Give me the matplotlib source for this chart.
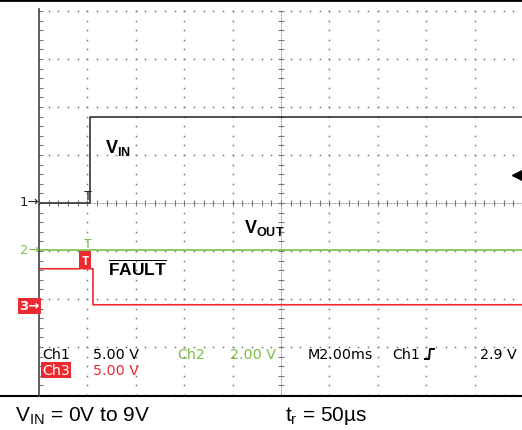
import numpy as np
import matplotlib.pyplot as plt
from matplotlib.lines import Line2D

# scope settings (V/div, ms/div)
ch1_scale = 5.0
ch2_scale = 2.0
ch3_scale = 5.0
time_scale = 2.0

# channel ground offsets in divisions
ch1_offset = 0.0
ch2_offset = -0.98
ch3_offset = -2.12

# traces: time in ms (trigger at 0), values in volts
t_vin = [-2.0, 0.12, 0.12, 18.0]
v_vin = [0.0, 0.0, 9.0, 9.0]
t_vout = [-2.0, 18.0]
v_vout = [0.0, 0.0]
t_fault = [-2.0, -0.3, -0.25, -0.2, 0.23, 0.23, 18.0]
v_fault = [3.75, 3.75, 3.85, 3.75, 3.75, 0.0, 0.0]

trig_level = 2.9

plt.rcParams['mathtext.fontset'] = 'custom'
plt.rcParams['mathtext.rm'] = 'Liberation Sans'
plt.rcParams['mathtext.bf'] = 'Liberation Sans:bold'
plt.rcParams['mathtext.it'] = 'Liberation Sans'

W, H = 522, 431
fig = plt.figure(figsize=(W / 100, H / 100), dpi=100)


def fx(x):
    return x / W


def fy(y):
    return 1 - y / H


# graticule axes: 10 x 8 divisions
left, top, div = 39, 12, 48.4
ax = fig.add_axes([fx(left), fy(top + 8 * 48.0), 10 * div / W, 8 * 48.0 / H])
ax.set_xlim(-time_scale, 9 * time_scale)
ax.set_ylim(-4, 4)
ax.axis('off')


def tx(div_x):
    return (div_x - 1) * time_scale


grid_c = '#777777'
# vertical graticule lines
for k in range(1, 11):
    if k == 5:
        continue
    ys = np.arange(-4, 4.01, 0.2)
    ax.plot([tx(k)] * len(ys), ys, ls='none', marker='s', ms=1.1, mew=0, color=grid_c, clip_on=False)
# horizontal graticule lines
for k in range(-4, 5):
    if k == 0:
        continue
    xs = tx(np.arange(0, 10.01, 0.2))
    ax.plot(xs, [k] * len(xs), ls='none', marker='s', ms=1.1, mew=0, color=grid_c, clip_on=False)

# center crosshair with minor ticks
ax.plot([tx(0), tx(10)], [0, 0], ls=(0, (0.8, 0.8)), lw=0.7, color=grid_c)
ax.plot([tx(5), tx(5)], [-4, 4], ls=(0, (0.8, 0.8)), lw=0.7, color=grid_c)
xs = tx(np.arange(0, 10.01, 0.2))
ax.plot(xs, [0] * len(xs), ls='none', marker='|', ms=5, mew=0.8, color=grid_c)
ys = np.arange(-4, 4.01, 0.2)
ax.plot([tx(5)] * len(ys), ys, ls='none', marker='_', ms=5, mew=0.8, color=grid_c)
# left border minor ticks
ax.plot([tx(0.04)] * len(ys), ys, ls='none', marker='_', ms=3, mew=0.8, color=grid_c)

# traces
ax.plot(t_vin, np.array(v_vin) / ch1_scale + ch1_offset, color='#333333', lw=1.2)
ax.plot(t_vout, np.array(v_vout) / ch2_scale + ch2_offset, color='#7cbf45', lw=1.2)
ax.plot(t_fault, np.array(v_fault) / ch3_scale + ch3_offset, color='#ec2a30', lw=1.2)

# trigger markers "T"
ax.text(0, ch1_offset + 0.02, 'T', color='#222222', ha='center', va='bottom',
        fontsize=9.5, family='DejaVu Sans Mono')
ax.text(0, ch2_offset + 0.0, 'T', color='#7cbf45', ha='center', va='bottom',
        fontsize=9.5, family='DejaVu Sans Mono')
ax.text(-0.1, 0.75 + ch3_offset + 0.04, 'T', color='white', ha='center', va='bottom',
        fontsize=9, fontweight='bold', family='DejaVu Sans Mono',
        bbox=dict(boxstyle='square,pad=0.2', fc='#ec2a30', ec='none'))

# trigger level arrow on the right
ax.plot([tx(9.87)], [trig_level / ch1_scale + ch1_offset], marker='<', ms=7, color='black', clip_on=False)

# border lines
fig.add_artist(Line2D([0, 1], [fy(1), fy(1)], color='black', lw=2))
fig.add_artist(Line2D([0, 1], [fy(397), fy(397)], color='black', lw=1.5))
fig.add_artist(Line2D([fx(38.5), fx(38.5)], [fy(10), fy(397)], color='#444444', lw=1.2))

# channel ground markers
fig.text(fx(20), fy(203), '1→', ha='left', va='center', fontsize=9.5, color='#222222')
fig.text(fx(20), fy(251), '2→', ha='left', va='center', fontsize=9.5, color='#7cbf45')
fig.text(fx(19), fy(307), '3→', ha='left', va='center', fontsize=9.5, color='white',
         fontweight='bold', bbox=dict(boxstyle='square,pad=0.1', fc='#ec2a30', ec='none'))

# trace labels
fig.text(fx(105), fy(148), r'$\mathbf{V_{IN}}$', fontsize=13, va='center', ha='left')
fig.text(fx(244), fy(228), r'$\mathbf{V_{OUT}}$', fontsize=13, va='center', ha='left')
fig.text(fx(108), fy(269), r'$\mathbf{\overline{FAULT}}$', fontsize=12.5, va='center', ha='left')

# readout
rd = dict(family='DejaVu Sans', fontsize=10.3, va='center', ha='left')
fig.text(fx(42), fy(355), 'Ch1', color='black', **rd)
fig.text(fx(93), fy(355), f'{ch1_scale:.2f} V', color='black', **rd)
fig.text(fx(177), fy(355), 'Ch2', color='#7cbf45', **rd)
fig.text(fx(230), fy(355), f'{ch2_scale:.2f} V', color='#7cbf45', **rd)
fig.text(fx(308), fy(355), f'M{time_scale:.2f}ms', color='black', **rd)
fig.text(fx(392), fy(355), 'Ch1', color='black', **rd)
fig.add_artist(Line2D([fx(425), fx(429), fx(430), fx(434)],
                      [fy(360), fy(360), fy(350), fy(350)], color='black', lw=1.4))
fig.text(fx(480), fy(355), f'{trig_level} V', color='black', **rd)
fig.text(fx(42), fy(371), 'Ch3', color='white',
         bbox=dict(boxstyle='square,pad=0.05', fc='#ec2a30', ec='none'), **rd)
fig.text(fx(93), fy(371), f'{ch3_scale:.2f} V', color='#ec2a30', **rd)

# captions
fig.text(fx(15), fy(416), r'$\mathregular{V_{IN}}$ = 0V to 9V', fontsize=15,
         family='Liberation Sans', va='center', ha='left')
fig.text(fx(285), fy(416), r'$\mathregular{t_r}$ = 50µs', fontsize=15,
         family='Liberation Sans', va='center', ha='left')

fig.savefig('out.png', dpi=100, facecolor='white')
